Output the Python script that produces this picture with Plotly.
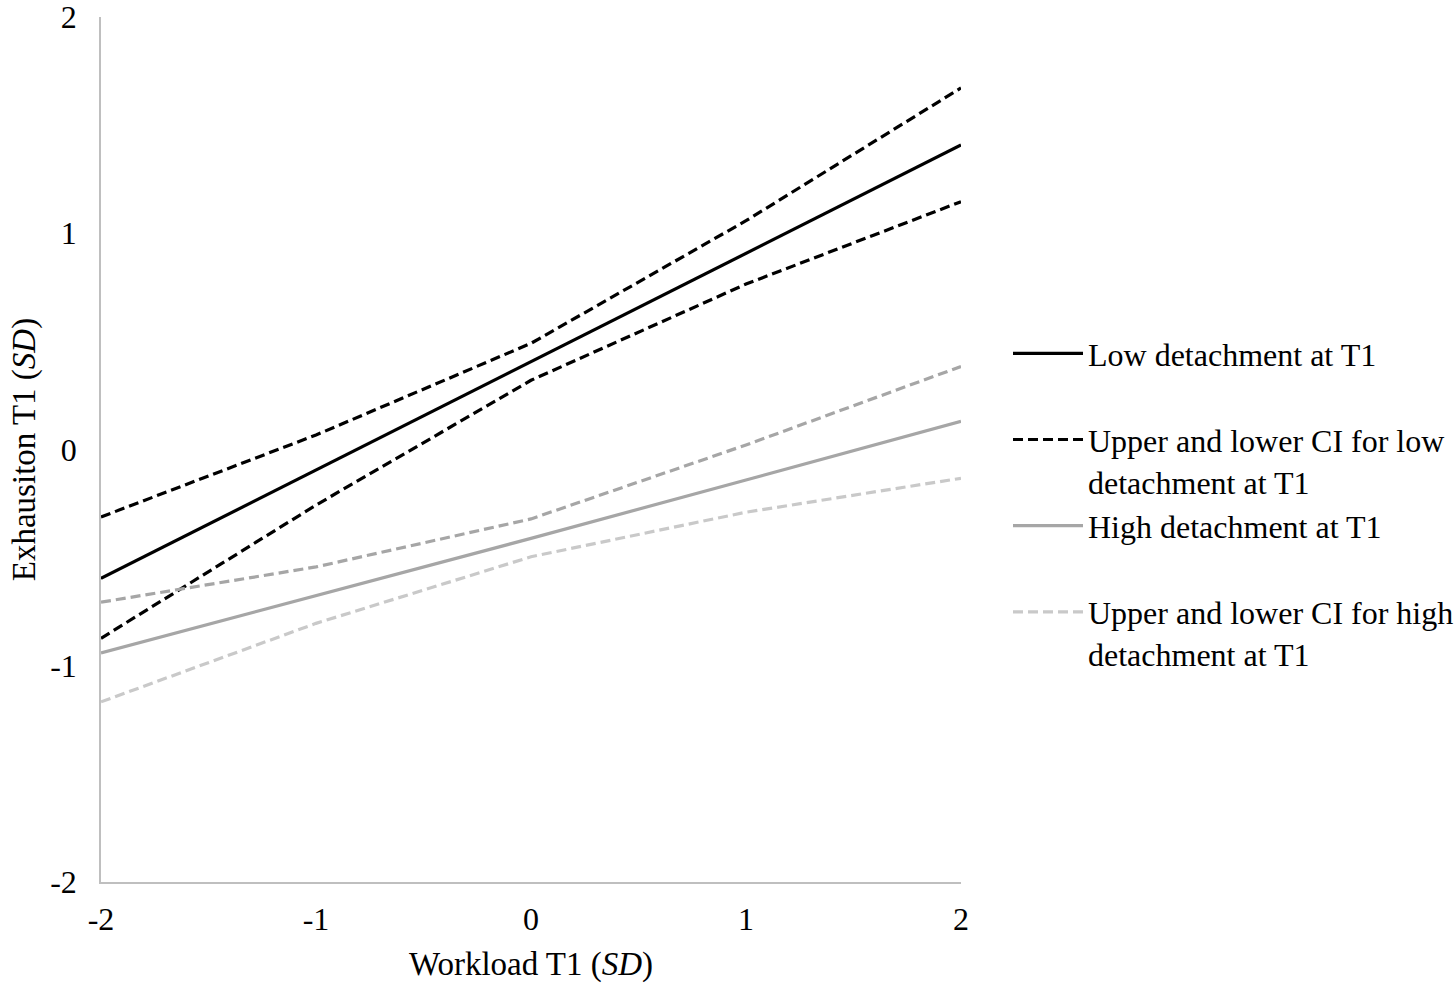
import plotly.graph_objects as go

workload = [-2, -1, 0, 1, 2]
low_det = [-0.596, -0.095, 0.406, 0.907, 1.408]
low_upper = [-0.312, 0.067, 0.491, 1.058, 1.672]
low_lower = [-0.873, -0.257, 0.320, 0.765, 1.146]
high_det = [-0.941, -0.676, -0.411, -0.141, 0.130]
high_upper = [-0.706, -0.543, -0.321, 0.021, 0.384]
high_lower = [-1.167, -0.804, -0.496, -0.290, -0.133]

x_ticks = [-2, -1, 0, 1, 2]
y_ticks = [-2, -1, 0, 1, 2]

FONT = "Liberation Serif, Times New Roman, serif"
BLACK = "#000000"
GRAY = "#a6a6a6"
LIGHT = "#c9c9c9"
DASH = "10px,5px"
NB = "\u00a0"
LW = 3.2

W, H = 1454, 986

fig = go.Figure()
fig.add_trace(go.Scatter(x=workload, y=low_det, mode="lines",
                         line=dict(color=BLACK, width=LW),
                         name="Low detachment at T1<br>" + NB, legendrank=1))
fig.add_trace(go.Scatter(x=workload, y=low_upper, mode="lines",
                         line=dict(color=BLACK, width=LW, dash=DASH),
                         name="Upper and lower CI for low<br>detachment at T1", legendrank=2))
fig.add_trace(go.Scatter(x=workload, y=low_lower, mode="lines",
                         line=dict(color=BLACK, width=LW, dash=DASH),
                         showlegend=False))
fig.add_trace(go.Scatter(x=workload, y=high_det, mode="lines",
                         line=dict(color=GRAY, width=LW),
                         name="High detachment at T1<br>" + NB, legendrank=3))
fig.add_trace(go.Scatter(x=workload, y=high_upper, mode="lines",
                         line=dict(color=GRAY, width=LW, dash=DASH),
                         showlegend=False))
fig.add_trace(go.Scatter(x=workload, y=high_lower, mode="lines",
                         line=dict(color=LIGHT, width=LW, dash=DASH),
                         name="Upper and lower CI for high<br>detachment at T1", legendrank=4))

fig.update_layout(
    width=W, height=H,
    margin=dict(l=101, r=W - 101 - 860, t=17, b=H - 17 - 865),
    paper_bgcolor="white", plot_bgcolor="white",
    font=dict(family=FONT, size=32, color="black"),
    showlegend=True,
    legend=dict(
        xref="container", yref="container",
        x=1008 / W, y=1 - 326 / H, xanchor="left", yanchor="top",
        valign="top", itemwidth=70, tracegroupgap=0,
        font=dict(family=FONT, size=32, color="black"),
        bgcolor="rgba(0,0,0,0)",
        traceorder="normal",
    ),
)
fig.update_xaxes(
    range=[-2, 2], tickvals=x_ticks, ticktext=[str(v) for v in x_ticks],
    showgrid=False, zeroline=False, showline=True, linecolor="#bfbfbf", linewidth=1.5,
    ticks="", ticklabelstandoff=8, ticklabeloverflow="allow",
    title=dict(text="Workload T1 (<i>SD</i>)", standoff=16,
               font=dict(family=FONT, size=33, color="black")),
    automargin=False,
)
fig.update_yaxes(
    range=[-2, 2], tickvals=y_ticks, ticktext=[str(v) for v in y_ticks],
    showgrid=False, zeroline=False, showline=True, linecolor="#bfbfbf", linewidth=1.5,
    ticks="", ticklabelstandoff=16, ticklabeloverflow="allow",
    title=dict(text="Exhausiton T1 (<i>SD</i>)", standoff=5,
               font=dict(family=FONT, size=33, color="black")),
    automargin=False,
)

fig.write_html(
    "out.html",
    config={"displayModeBar": False},
    post_script="document.body.style.margin='0';document.body.style.overflow='hidden';",
)
